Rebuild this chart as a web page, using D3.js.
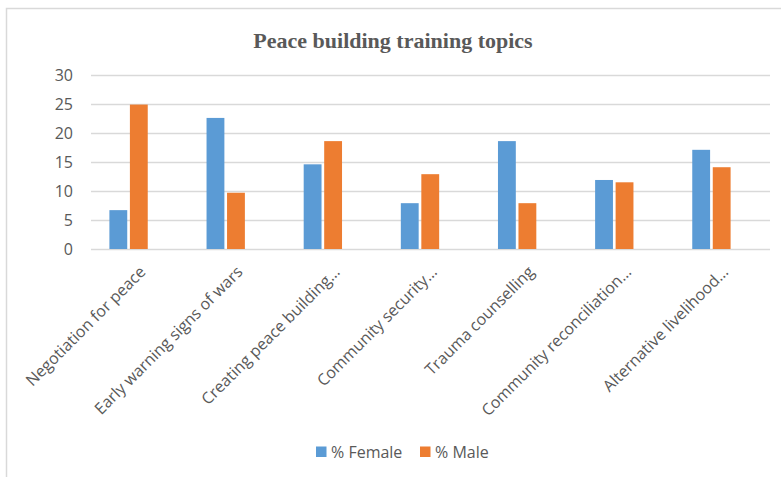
<!DOCTYPE html>
<html>
<head>
<meta charset="utf-8">
<script src="https://cdn.jsdelivr.net/npm/d3@7"></script>
<style>
  html, body { margin: 0; padding: 0; background: #fff; }
  svg { display: block; }
</style>
</head>
<body>
<svg id="chart" width="781" height="477"></svg>
<script>
const categories = [
  "Negotiation for peace",
  "Early warning signs of wars",
  "Creating peace building…",
  "Community security…",
  "Trauma counselling",
  "Community reconciliation…",
  "Alternative livelihood…"
];
const femaleValues = [6.7, 22.6, 14.6, 7.9, 18.6, 11.9, 17.1];
const maleValues = [24.9, 9.7, 18.6, 12.9, 7.9, 11.5, 14.1];
const seriesNames = ["% Female", "% Male"];
const seriesColors = ["#5B9BD5", "#ED7D31"];
const yTicks = [0, 5, 10, 15, 20, 25, 30];
const title = "Peace building training topics";

const svg = d3.select("#chart");
const W = 781, H = 477;
const textColor = "#595959";
const font = "'Open Sans', sans-serif";

// outer chart border
svg.append("rect")
  .attr("x", 6.5).attr("y", 8.5)
  .attr("width", W + 10).attr("height", H + 10)
  .attr("fill", "none").attr("stroke", "#D9D9D9").attr("stroke-width", 1.5);

// title
svg.append("text")
  .attr("x", 393).attr("y", 48)
  .attr("text-anchor", "middle")
  .attr("font-family", "'Liberation Serif', 'Times New Roman', serif")
  .attr("font-weight", "bold")
  .attr("font-size", 22)
  .attr("fill", textColor)
  .text(title);

const y = d3.scaleLinear().domain([0, 30]).range([249, 75]);
const gridLeft = 91, gridRight = 770;
const x0 = d3.scaleBand().domain(categories).range([80, 760]).paddingInner(0).paddingOuter(0);
const x1 = d3.scaleBand().domain(seriesNames).range([29.4, x0.bandwidth() - 29.4]).paddingInner(0.13);

// gridlines
const yAxis = d3.axisLeft(y).tickValues(yTicks).tickSize(-(gridRight - gridLeft)).tickPadding(18);
const gy = svg.append("g").attr("transform", `translate(${gridLeft},0)`).call(yAxis);
gy.select(".domain").remove();
gy.selectAll(".tick line").attr("stroke", "#D9D9D9").attr("stroke-width", 1.3);
gy.selectAll(".tick text")
  .attr("font-family", font).attr("font-size", 16).attr("fill", textColor);

// bars
const groups = svg.append("g").selectAll("g")
  .data(categories.map((c, i) => ({ c, vals: [femaleValues[i], maleValues[i]] })))
  .join("g")
  .attr("transform", d => `translate(${x0(d.c)},0)`);

groups.selectAll("rect")
  .data(d => d.vals.map((v, j) => ({ name: seriesNames[j], v, j })))
  .join("rect")
  .attr("x", d => x1(d.name))
  .attr("width", x1.bandwidth())
  .attr("y", d => y(d.v))
  .attr("height", d => y(0) - y(d.v))
  .attr("fill", d => seriesColors[d.j]);

// x axis labels (rotated)
const xAxis = d3.axisBottom(x0).tickSize(0).tickPadding(0);
const gx = svg.append("g").attr("transform", `translate(0,249)`).call(xAxis);
gx.select(".domain").remove();
gx.selectAll(".tick text")
  .attr("font-family", font).attr("font-size", 16).attr("fill", textColor)
  .attr("text-anchor", "end")
  .attr("transform", "translate(14,20) rotate(-45)")
  .attr("dy", "0.35em")
  .attr("x", 0).attr("y", 0);

// legend
const legend = svg.append("g");
const legendItems = [{ x: 316, name: seriesNames[0], color: seriesColors[0] },
                     { x: 420, name: seriesNames[1], color: seriesColors[1] }];
legendItems.forEach(it => {
  legend.append("rect").attr("x", it.x).attr("y", 446.5).attr("width", 10.5).attr("height", 10.5).attr("fill", it.color);
  legend.append("text").attr("x", it.x + 15).attr("y", 457.5)
    .attr("font-family", font).attr("font-size", 16).attr("fill", textColor)
    .text(it.name);
});
</script>
</body>
</html>
